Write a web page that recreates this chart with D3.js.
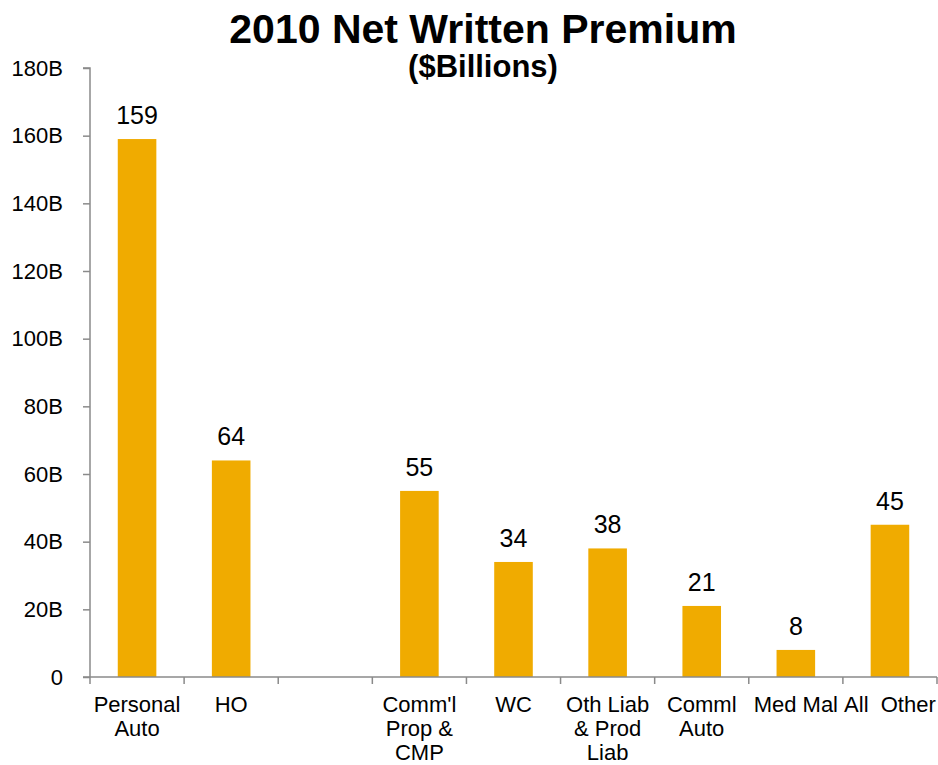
<!DOCTYPE html>
<html>
<head>
<meta charset="utf-8">
<script src="https://cdn.jsdelivr.net/npm/d3@7"></script>
<style>
  html, body { margin: 0; padding: 0; background: #fff; }
  svg { display: block; font-family: "Liberation Sans", Arial, sans-serif; }
</style>
</head>
<body>
<svg id="chart" width="938" height="765"></svg>
<script>
// Lines of business (an empty slot separates personal from commercial lines)
const categories = [
  ["Personal", "Auto"],
  ["HO"],
  [""],
  ["Comm'l", "Prop &", "CMP"],
  ["WC"],
  ["Oth Liab", "& Prod", "Liab"],
  ["Comml", "Auto"],
  ["Med Mal"],
  ["All  Other"]
];
// Net written premium, $ billions
const premiums = [159, 64, null, 55, 34, 38, 21, 8, 45];
const yTicks = [0, 20, 40, 60, 80, 100, 120, 140, 160, 180];
const yTickLabels = ["0", "20B", "40B", "60B", "80B", "100B", "120B", "140B", "160B", "180B"];

const svg = d3.select("#chart");
const plotLeft = 90, plotRight = 937, plotTop = 68, plotBottom = 677;
const barColor = "#F0AB00";
const axisColor = "#8a8a8a";

const x = d3.scaleBand()
  .domain(d3.range(categories.length))
  .range([plotLeft, plotRight])
  .padding(0);

const y = d3.scaleLinear()
  .domain([0, 180])
  .range([plotBottom, plotTop]);

// Title
svg.append("text")
  .attr("x", 483).attr("y", 43)
  .attr("text-anchor", "middle")
  .style("font-weight", "bold").style("font-size", "41px")
  .text("2010 Net Written Premium");
svg.append("text")
  .attr("x", 483).attr("y", 77)
  .attr("text-anchor", "middle")
  .style("font-weight", "bold").style("font-size", "31px")
  .text("($Billions)");

// Bars
const barW = x.bandwidth() * 0.41;
const data = premiums.map((v, i) => ({ i, v })).filter(d => d.v !== null);

svg.append("g").selectAll("rect")
  .data(data)
  .join("rect")
  .attr("x", d => x(d.i) + (x.bandwidth() - barW) / 2)
  .attr("width", barW)
  .attr("y", d => y(d.v))
  .attr("height", d => y(0) - y(d.v))
  .attr("fill", barColor);

// Value labels
svg.append("g").selectAll("text")
  .data(data)
  .join("text")
  .attr("x", d => x(d.i) + x.bandwidth() / 2)
  .attr("y", d => y(d.v) - 15)
  .attr("text-anchor", "middle")
  .style("font-size", "25px")
  .attr("fill", "#000")
  .text(d => d.v);

// Y axis
const yAxis = d3.axisLeft(y)
  .tickValues(yTicks)
  .tickFormat((d, i) => yTickLabels[i])
  .tickSize(7)
  .tickPadding(20);
const gy = svg.append("g")
  .attr("transform", `translate(${plotLeft},0)`)
  .call(yAxis);
gy.select(".domain").attr("stroke", axisColor).attr("stroke-width", 1.5)
  .attr("d", `M-7,${plotTop}H0V${plotBottom}`);
gy.selectAll(".tick line").attr("stroke", axisColor).attr("stroke-width", 1.5);
gy.selectAll(".tick text")
  .style("font-size", "22px")
  .style("font-family", "\"Liberation Sans\", Arial, sans-serif")
  .attr("fill", "#000");

// X axis: baseline with tick marks at category boundaries
const gx = svg.append("g");
gx.append("line")
  .attr("x1", plotLeft - 7).attr("x2", plotRight)
  .attr("y1", y(0)).attr("y2", y(0))
  .attr("stroke", axisColor).attr("stroke-width", 1.5);
const bounds = x.domain().map(i => x(i)).concat([x(x.domain().length - 1) + x.bandwidth()]);
gx.selectAll("line.bound")
  .data(bounds)
  .join("line")
  .attr("class", "bound")
  .attr("x1", d => d).attr("x2", d => d)
  .attr("y1", y(0)).attr("y2", y(0) + 7)
  .attr("stroke", axisColor).attr("stroke-width", 1.5);

// Category labels
const lbl = gx.selectAll("text.cat")
  .data(categories)
  .join("text")
  .attr("class", "cat")
  .attr("text-anchor", "middle")
  .style("font-size", "22px")
  .style("white-space", "pre")
  .attr("fill", "#000");
lbl.selectAll("tspan")
  .data((d, i) => d.map(t => ({ t, i })))
  .join("tspan")
  .attr("x", d => x(d.i) + x.bandwidth() / 2)
  .attr("y", (d, j) => 712 + j * 24)
  .text(d => d.t);
</script>
</body>
</html>
